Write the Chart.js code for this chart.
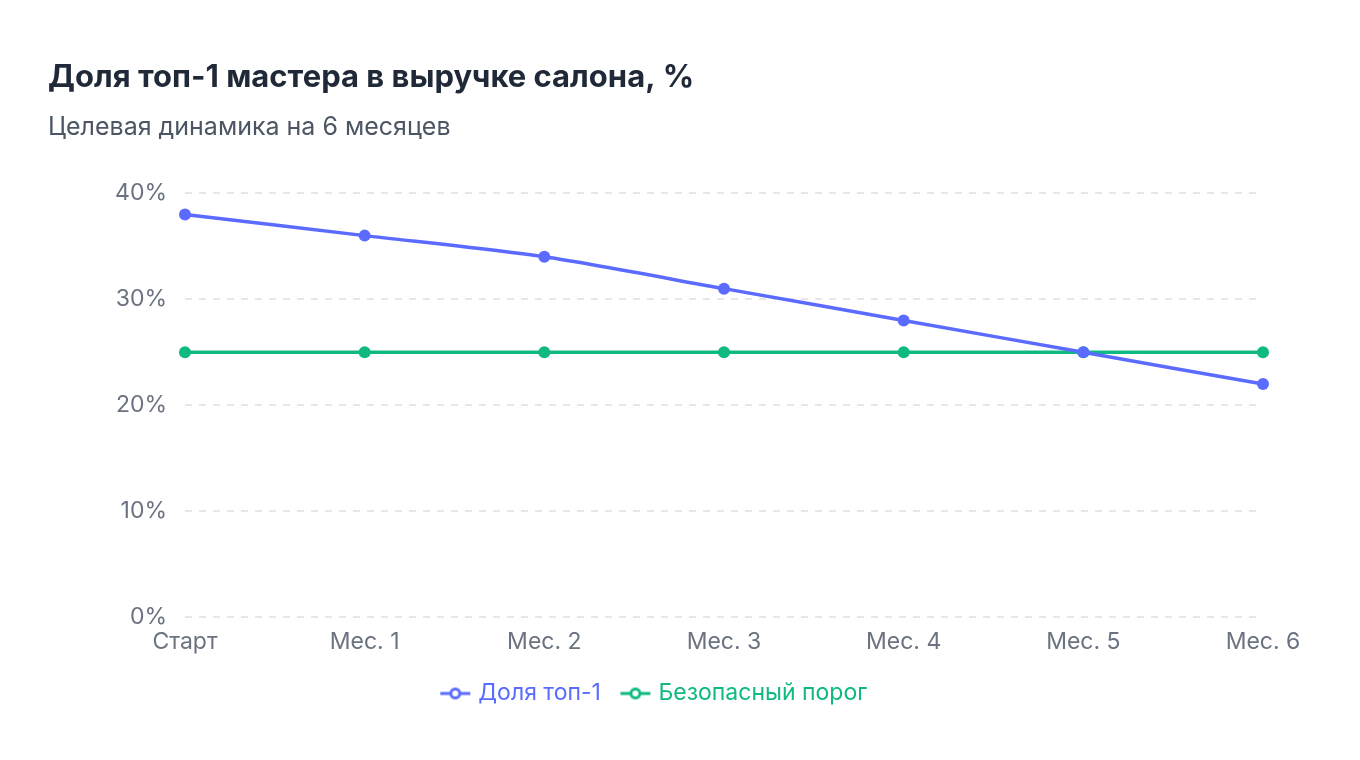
<!DOCTYPE html>
<html>
<head>
<meta charset="utf-8">
<script src="https://cdn.jsdelivr.net/npm/chart.js@4/dist/chart.umd.min.js"></script>
<style>
  html, body { margin: 0; padding: 0; background: #fff; }
  #wrap { width: 1360px; height: 760px; }
</style>
</head>
<body>
<div id="wrap"><canvas id="shareChart" width="1360" height="760"></canvas></div>
<script>
// chart data
var months = ["Старт", "Мес. 1", "Мес. 2", "Мес. 3", "Мес. 4", "Мес. 5", "Мес. 6"];
var topShare = [38, 36, 34, 31, 28, 25, 22];
var safeLevel = [25, 25, 25, 25, 25, 25, 25];
var yTicks = [0, 10, 20, 30, 40];

var blue = "#5b6bff";
var green = "#10b981";
var font = "Inter, 'Noto Sans', sans-serif";

// small "-o-" marker for legend items
function legendMarker(color) {
    var c = document.createElement("canvas");
    c.width = 32;
    c.height = 14;
    var g = c.getContext("2d");
    g.strokeStyle = color;
    g.lineWidth = 3;
    g.beginPath();
    g.moveTo(1, 7);
    g.lineTo(31, 7);
    g.stroke();
    g.fillStyle = "#fff";
    g.beginPath();
    g.arc(16, 7, 4.5, 0, Math.PI * 2);
    g.fill();
    g.stroke();
    return c;
}

var ctx = document.getElementById("shareChart").getContext("2d");
var chart = new Chart(ctx, {
    type: "line",
    data: {
        labels: months,
        datasets: [
            {
                label: "Доля топ-1",
                data: topShare,
                borderColor: blue,
                backgroundColor: blue,
                borderWidth: 3.5,
                pointRadius: 6,
                pointBackgroundColor: blue,
                pointBorderWidth: 0,
                tension: 0.25
            },
            {
                label: "Безопасный порог",
                data: safeLevel,
                borderColor: green,
                backgroundColor: green,
                borderWidth: 3.5,
                pointRadius: 6,
                pointBackgroundColor: green,
                pointBorderWidth: 0,
                tension: 0
            }
        ]
    },
    options: {
        responsive: false,
        animation: false,
        layout: {
            padding: { left: 48, right: 97, top: 59, bottom: 45 }
        },
        plugins: {
            title: {
                display: true,
                text: "Доля топ-1 мастера в выручке салона, %",
                align: "start",
                color: "#1f2937",
                font: { family: font, size: 31, weight: "700" },
                padding: { top: 0, bottom: 16 }
            },
            subtitle: {
                display: true,
                text: "Целевая динамика на 6 месяцев",
                align: "start",
                color: "#4b5563",
                font: { family: font, size: 25, weight: "400" },
                padding: { top: 0, bottom: 51 }
            },
            legend: {
                position: "bottom",
                labels: {
                    usePointStyle: true,
                    padding: 23,
                    font: { family: font, size: 23 },
                    generateLabels: function (ch) {
                        return ch.data.datasets.map(function (ds, i) {
                            return {
                                text: ds.label,
                                datasetIndex: i,
                                fontColor: ds.borderColor,
                                pointStyle: legendMarker(ds.borderColor),
                                hidden: !ch.isDatasetVisible(i),
                                lineWidth: 0
                            };
                        });
                    }
                }
            },
            tooltip: { enabled: false }
        },
        scales: {
            x: {
                grid: { display: false },
                border: { display: false },
                ticks: {
                    color: "#6b7280",
                    font: { family: font, size: 23 },
                    padding: 3,
                    maxRotation: 0
                }
            },
            y: {
                min: 0,
                max: 40,
                afterFit: function (scale) { scale.width = 137; },
                afterBuildTicks: function (scale) {
                    scale.ticks = yTicks.map(function (v) { return { value: v }; });
                },
                grid: { color: "#e5e7eb", lineWidth: 2, drawTicks: false },
                border: { display: false, dash: [7, 7] },
                ticks: {
                    color: "#6b7280",
                    font: { family: font, size: 23 },
                    padding: 18,
                    callback: function (v) { return v + "%"; }
                }
            }
        }
    }
});
</script>
</body>
</html>
